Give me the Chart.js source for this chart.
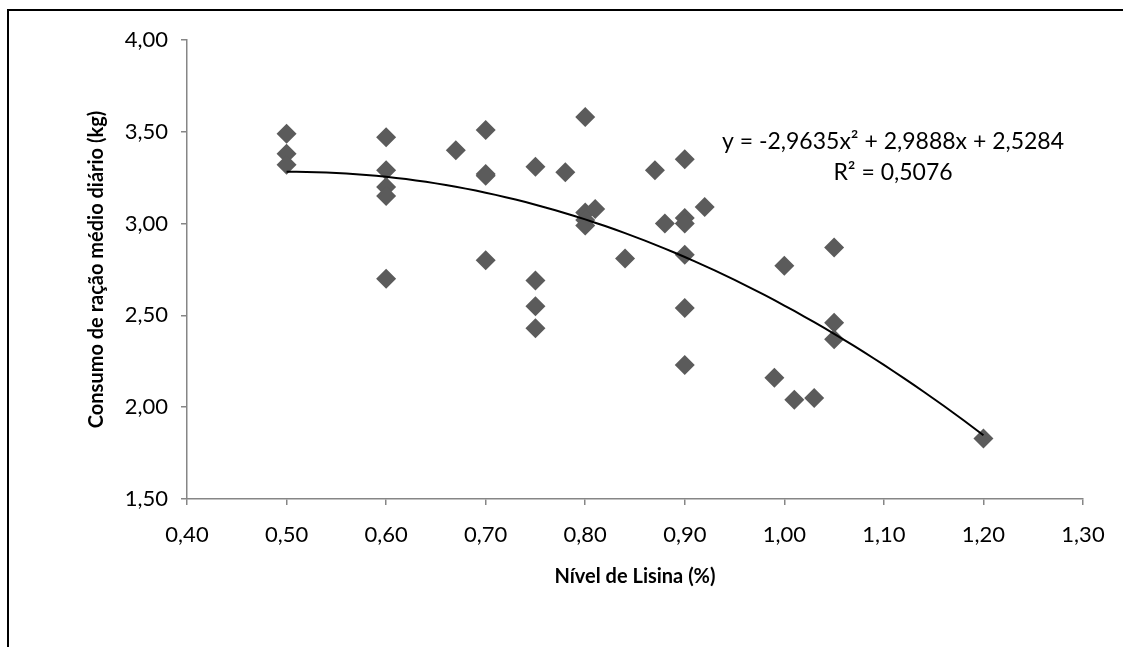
<!DOCTYPE html>
<html>
<head>
<meta charset="utf-8">
<script src="https://cdn.jsdelivr.net/npm/chart.js@4"></script>
<style>
  body { margin: 0; background: #fff; }
  #wrap { position: relative; width: 1123px; height: 647px; overflow: hidden; }
  #frame { position: absolute; left: 7px; top: 9px; width: 1200px; height: 700px;
           border-left: 2px solid #000; border-top: 2px solid #000; pointer-events: none; }
</style>
</head>
<body>
<div id="wrap">
  <canvas id="lisina" width="1123" height="647"></canvas>
  <div id="frame"></div>
</div>
<script>
// Lysine level (%) and daily feed intake (kg)
var lysineLevel = [0.50, 0.50, 0.50, 0.60, 0.60, 0.60, 0.60, 0.60, 0.67, 0.70, 0.70, 0.70, 0.70,
  0.75, 0.75, 0.75, 0.75, 0.78, 0.80, 0.80, 0.80, 0.80, 0.81, 0.84, 0.87, 0.88, 0.90, 0.90, 0.90,
  0.90, 0.90, 0.90, 0.92, 0.99, 1.00, 1.01, 1.03, 1.05, 1.05, 1.05, 1.20];
var feedIntake = [3.49, 3.38, 3.32, 3.47, 3.29, 3.20, 3.15, 2.70, 3.40, 3.51, 3.27, 3.26, 2.80,
  3.31, 2.69, 2.55, 2.43, 3.28, 3.58, 3.06, 3.02, 2.99, 3.08, 2.81, 3.29, 3.00, 3.35, 3.03, 3.00,
  2.83, 2.54, 2.23, 3.09, 2.16, 2.77, 2.04, 2.05, 2.87, 2.46, 2.37, 1.83];

// polynomial trend (Excel), order 2: a x^2 + b x + c
var trendCoef = [-2.9635, 2.9888, 2.5284];
var trendRange = [0.50, 1.20];
var trendLabels = ["y = -2,9635x\u00b2 + 2,9888x + 2,5284", "R\u00b2 = 0,5076"];

var xTicks = [0.40, 1.30, 0.10];
var yTicks = [1.50, 4.00, 0.50];

var scatterPoints = lysineLevel.map(function (x, i) { return { x: x, y: feedIntake[i] }; });
var trendPoints = [];
for (var k = 0; k <= 70; k++) {
  var tx = trendRange[0] + (trendRange[1] - trendRange[0]) * k / 70;
  trendPoints.push({ x: tx, y: trendCoef[0] * tx * tx + trendCoef[1] * tx + trendCoef[2] });
}

var axisGray = "#868686";
var fontFam = "Lato, 'Open Sans', sans-serif";

function comma(v) { return Number(v).toFixed(2).replace(".", ","); }

var equationLabel = {
  id: "equationLabel",
  afterDatasetsDraw: function (chart) {
    var ctx = chart.ctx;
    ctx.save();
    ctx.fillStyle = "#000";
    ctx.font = "23px " + fontFam;
    ctx.textAlign = "center";
    ctx.textBaseline = "middle";
    ctx.fillText(trendLabels[0], 893, 142);
    ctx.fillText(trendLabels[1], 893, 173);
    ctx.restore();
  }
};

var ctx = document.getElementById("lisina").getContext("2d");
var myChart = new Chart(ctx, {
  type: "scatter",
  data: {
    datasets: [{
      type: "line",
      data: trendPoints,
      borderColor: "#000",
      borderWidth: 2,
      pointRadius: 0,
      fill: false,
      tension: 0,
      order: 0
    }, {
      data: scatterPoints,
      pointStyle: "rectRot",
      pointRadius: 10,
      pointHoverRadius: 10,
      backgroundColor: "#5b5b5b",
      borderColor: "#5b5b5b",
      borderWidth: 0,
      order: 1
    }]
  },
  options: {
    responsive: false,
    devicePixelRatio: 1,
    animation: false,
    events: [],
    layout: { padding: { left: 0, top: 40, right: 40, bottom: 0 } },
    plugins: { legend: { display: false }, tooltip: { enabled: false } },
    scales: {
      x: {
        type: "linear",
        min: xTicks[0], max: xTicks[1],
        afterFit: function (scale) { scale.height = 148; },
        border: { color: axisGray, width: 1.5 },
        grid: { drawOnChartArea: false, drawTicks: true, tickLength: 6, color: axisGray, lineWidth: 1.5 },
        ticks: {
          stepSize: xTicks[2], padding: 17, color: "#000",
          font: { family: fontFam, size: 22 },
          callback: function (v) { return comma(v); }
        },
        title: {
          display: true, text: "Nível de Lisina (%)", color: "#000",
          font: { family: fontFam, size: 20, weight: "bold" },
          padding: { top: 0, bottom: 58 }
        }
      },
      y: {
        type: "linear",
        min: yTicks[0], max: yTicks[1],
        afterFit: function (scale) { scale.width = 187; },
        border: { color: axisGray, width: 1.5 },
        grid: { drawOnChartArea: false, drawTicks: true, tickLength: 6, color: axisGray, lineWidth: 1.5 },
        ticks: {
          stepSize: yTicks[2], padding: 13, color: "#000",
          font: { family: fontFam, size: 22 },
          callback: function (v) { return comma(v); }
        },
        title: {
          display: true, text: "Consumo de ração médio diário (kg)", color: "#000",
          font: { family: fontFam, size: 20, weight: "bold" },
          padding: { top: 85, bottom: 0 }
        }
      }
    }
  },
  plugins: [equationLabel]
});
</script>
</body>
</html>
